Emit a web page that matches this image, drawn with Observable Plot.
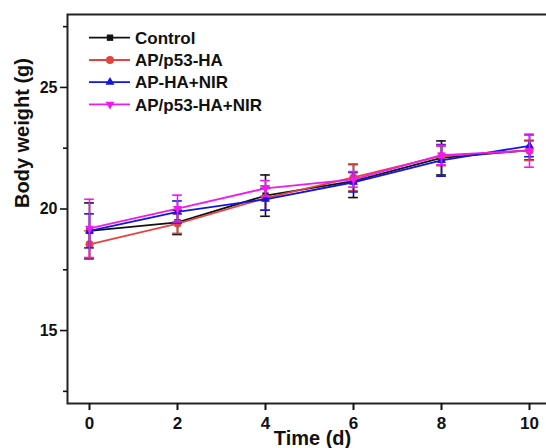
<!DOCTYPE html>
<html>
<head>
<meta charset="utf-8">
<script src="https://cdn.jsdelivr.net/npm/d3@7"></script>
<script src="https://cdn.jsdelivr.net/npm/@observablehq/plot@0.6"></script>
<style>
  body { margin: 0; background: #fff; }
  #wrap { position: relative; width: 546px; height: 448px; overflow: hidden; }
  #legend { position: absolute; left: 0; top: 0; }
  #wrap svg text { font-weight: bold; }
</style>
</head>
<body>
<div id="wrap"></div>
<script>
const days = [0, 2, 4, 6, 8, 10];
const seriesNames = ["Control", "AP/p53-HA", "AP-HA+NIR", "AP/p53-HA+NIR"];
const seriesColors = ["#111111", "#e3443f", "#1515e0", "#f01af0"];
const control    = [19.1, 19.45, 20.55, 21.15, 22.1, 22.42];
const controlErr = [1.15, 0.5, 0.85, 0.68, 0.7, 0.4];
const apHA       = [18.55, 19.4, 20.45, 21.3, 22.18, 22.4];
const apHAErr    = [0.55, 0.4, 0.5, 0.55, 0.4, 0.4];
const apNIR      = [19.1, 19.88, 20.4, 21.1, 22.0, 22.6];
const apNIRErr   = [0.7, 0.45, 0.45, 0.4, 0.65, 0.45];
const apHANIR    = [19.2, 20.02, 20.85, 21.22, 22.22, 22.4];
const apHANIRErr = [1.2, 0.55, 0.32, 0.32, 0.4, 0.68];
const yMajor = [15, 20, 25];
const yMinor = [12.5, 17.5, 22.5, 27.5];

const values = [control, apHA, apNIR, apHANIR];
const errs = [controlErr, apHAErr, apNIRErr, apHANIRErr];

const triangleDown = {
  draw(context, size) {
    const s = Math.sqrt(size * 1.6);
    const h = s * Math.sqrt(3) / 2;
    context.moveTo(-s / 2, -h / 3);
    context.lineTo(s / 2, -h / 3);
    context.lineTo(0, 2 * h / 3);
    context.closePath();
  }
};
const triangleUp = {
  draw(context, size) {
    const s = Math.sqrt(size * 1.6);
    const h = s * Math.sqrt(3) / 2;
    context.moveTo(-s / 2, h / 3);
    context.lineTo(s / 2, h / 3);
    context.lineTo(0, -2 * h / 3);
    context.closePath();
  }
};
const symbols = ["square", "circle", triangleUp, triangleDown];
const radii = [3.6, 4, 4, 4];

const font = "Arial, 'Liberation Sans', Helvetica, sans-serif";

const seriesMarks = [];
values.forEach((vals, si) => {
  const rows = days.map((d, i) => ({x: d, y: vals[i], lo: vals[i] - errs[si][i], hi: vals[i] + errs[si][i]}));
  const c = seriesColors[si];
  seriesMarks.push(
    Plot.ruleX(rows, {x: "x", y1: "lo", y2: "hi", stroke: c, strokeWidth: 1.6}),
    Plot.ruleY(rows, {y: "hi", x1: d => d.x - 0.11, x2: d => d.x + 0.11, stroke: c, strokeWidth: 1.6}),
    Plot.ruleY(rows, {y: "lo", x1: d => d.x - 0.11, x2: d => d.x + 0.11, stroke: c, strokeWidth: 1.6}),
    Plot.line(rows, {x: "x", y: "y", stroke: c, strokeWidth: 1.8}),
    Plot.dot(rows, {x: "x", y: "y", symbol: () => symbols[si], r: radii[si], fill: c, stroke: "none"})
  );
});

const chart = Plot.plot({
  width: 546,
  height: 448,
  marginLeft: 67,
  marginRight: -5,
  marginTop: 14,
  marginBottom: 45,
  style: {fontFamily: font, fontWeight: "bold", fontSize: "17px", color: "#111", background: "#fff"},
  x: {domain: [-0.5, 10.5]},
  y: {domain: [12, 28]},
  marks: [
    ...seriesMarks,
    Plot.frame({stroke: "#222", strokeWidth: 2}),
    Plot.axisX({ticks: days, tickSize: 7, tickPadding: 6, tickFormat: d => String(d), label: null, strokeWidth: 2, fontSize: 17}),
    Plot.axisY({ticks: yMajor, tickSize: 7, tickPadding: 3, tickFormat: d => String(d), label: null, strokeWidth: 1.6, fontSize: 16}),
    Plot.axisY({ticks: yMinor, tickSize: 4, tickFormat: () => "", label: null, strokeWidth: 1.6}),
    Plot.text(["Time (d)"], {frameAnchor: "bottom", dy: 41, dx: 3, fontSize: 20, fontWeight: "bold", fill: "#111"}),
    Plot.text(["Body weight (g)"], {frameAnchor: "left", dx: -44.5, dy: -1, rotate: -90, fontSize: 20, fontWeight: "bold", fill: "#111"})
  ]
});

const wrap = document.getElementById("wrap");
wrap.appendChild(chart);

// Legend overlay
const leg = d3.select(wrap).append("svg")
  .attr("id", "legend").attr("width", 300).attr("height", 130)
  .style("font-family", font);
const rowY = [37.7, 60, 82.2, 104.4];
seriesNames.forEach((name, i) => {
  const g = leg.append("g").attr("transform", `translate(0,${rowY[i]})`);
  g.append("line").attr("x1", 89).attr("x2", 130).attr("y1", 0).attr("y2", 0)
    .attr("stroke", seriesColors[i]).attr("stroke-width", 1.8);
  const sym = typeof symbols[i] === "string"
    ? (symbols[i] === "square" ? d3.symbolSquare : d3.symbolCircle)
    : symbols[i];
  g.append("path").attr("transform", "translate(110,0)")
    .attr("d", d3.symbol(sym, radii[i] * radii[i] * Math.PI)())
    .attr("fill", seriesColors[i]);
  g.append("text").attr("x", 135).attr("y", 0).attr("dy", "0.36em")
    .attr("font-size", 17).attr("font-weight", "bold").attr("fill", "#111").text(name);
});
</script>
</body>
</html>
